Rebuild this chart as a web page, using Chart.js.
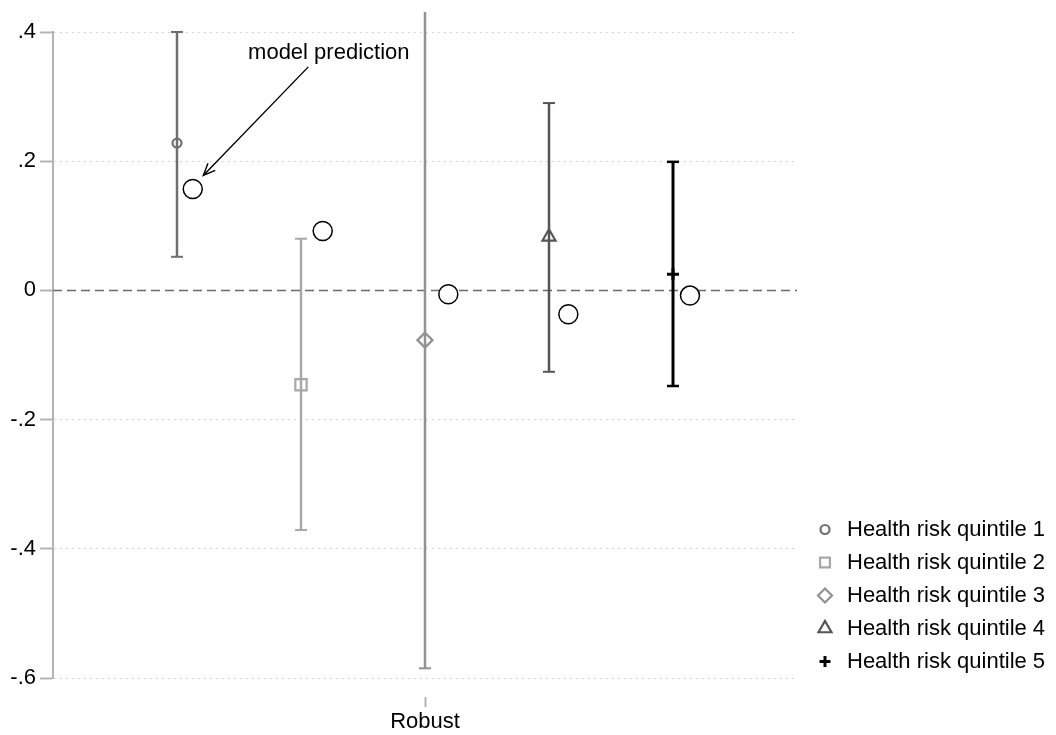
<!DOCTYPE html>
<html>
<head>
<meta charset="utf-8">
<script src="https://cdn.jsdelivr.net/npm/chart.js@4/dist/chart.umd.min.js"></script>
<style>
  body { margin: 0; background: #fff; }
  canvas { display: block; }
</style>
</head>
<body>
<canvas id="robust_chart" width="1056" height="735"></canvas>
<script>
// data set
var quintiles = ['Health risk quintile 1', 'Health risk quintile 2', 'Health risk quintile 3', 'Health risk quintile 4', 'Health risk quintile 5'];
var xPos = [1, 2, 3, 4, 5];
var estimates = [0.228, -0.146, -0.077, 0.083, 0.025];
var ciLow = [0.052, -0.371, -0.585, -0.126, -0.148];
var ciHigh = [0.400, 0.080, 0.431, 0.290, 0.199];
var predX = [1.127, 2.175, 3.188, 4.156, 5.137];
var predictions = [0.157, 0.092, -0.006, -0.037, -0.008];
var yTicks = [0.4, 0.2, 0, -0.2, -0.4, -0.6];
var xTickLabel = 'Robust';
var noteText = 'model prediction';
var noteAt = { x: 2.224, y: 0.368 };
var arrowFrom = { x: 2.059, y: 0.346 };
var arrowTo = { x: 1.212, y: 0.178 };

// style config
const FONT = '"Liberation Sans", Arial, Helvetica, sans-serif';
const colors = ['#6f6f6f', '#a8a8a8', '#929292', '#555555', '#000000'];
const markers = ['circle', 'rect', 'rectRot', 'triangle', 'cross'];
const markerSize = [4.5, 8, 7.5, 7.5, 6];
const legendSize = [4.5, 7, 7, 7.5, 5.5];
const lineWidths = [2.5, 2.5, 2.5, 2.5, 3];
const axisGray = '#b4b4b4';

var datasets = [];

// zero reference line
datasets.push({
  data: [{ x: 0, y: 0 }, { x: 6, y: 0 }],
  showLine: true,
  borderColor: '#6a6a6a',
  borderWidth: 1.5,
  borderDash: [9, 5],
  pointRadius: 0,
  order: 20
});

quintiles.forEach((name, i) => {
  // confidence interval with caps
  datasets.push({
    data: [{ x: xPos[i], y: ciLow[i] }, { x: xPos[i], y: ciHigh[i] }],
    showLine: true,
    borderColor: colors[i],
    borderWidth: lineWidths[i],
    pointStyle: 'line',
    pointRadius: 6,
    pointBorderWidth: lineWidths[i] - 0.5,
    pointBorderColor: colors[i],
    clip: false,
    order: 10
  });
  // point estimate
  datasets.push({
    label: name,
    data: [{ x: xPos[i], y: estimates[i] }],
    pointStyle: markers[i],
    pointRadius: markerSize[i],
    pointBorderWidth: markers[i] == 'cross' ? 3 : 2.2,
    pointBorderColor: colors[i],
    pointBackgroundColor: 'rgba(0,0,0,0)',
    clip: false,
    order: 5
  });
});

// model predictions
datasets.push({
  data: predX.map((x, i) => ({ x: x, y: predictions[i] })),
  pointStyle: 'circle',
  pointRadius: 9.5,
  pointBorderWidth: 1.5,
  pointBorderColor: '#000',
  pointBackgroundColor: '#fff',
  clip: false,
  order: 0
});

function fmtTick(v) {
  if (Math.abs(v) < 1e-9) return '0';
  return (v < 0 ? '-' : '') + Math.abs(v).toFixed(1).replace(/^0/, '');
}

// annotation + legend drawn on top
const extras = {
  id: 'extras',
  afterDraw(chart) {
    const ctx = chart.ctx;
    const xs = chart.scales.x;
    const ys = chart.scales.y;
    const area = chart.chartArea;

    ctx.save();
    ctx.fillStyle = '#000';
    ctx.font = '22px ' + FONT;
    ctx.textAlign = 'center';
    ctx.textBaseline = 'middle';
    ctx.fillText(noteText, xs.getPixelForValue(noteAt.x), ys.getPixelForValue(noteAt.y));

    var x1 = xs.getPixelForValue(arrowFrom.x), y1 = ys.getPixelForValue(arrowFrom.y);
    var x2 = xs.getPixelForValue(arrowTo.x), y2 = ys.getPixelForValue(arrowTo.y);
    var ang = Math.atan2(y2 - y1, x2 - x1);
    ctx.strokeStyle = '#000';
    ctx.lineWidth = 1.4;
    ctx.beginPath();
    ctx.moveTo(x1, y1);
    ctx.lineTo(x2, y2);
    ctx.moveTo(x2 - 13 * Math.cos(ang - 0.4), y2 - 13 * Math.sin(ang - 0.4));
    ctx.lineTo(x2, y2);
    ctx.lineTo(x2 - 13 * Math.cos(ang + 0.4), y2 - 13 * Math.sin(ang + 0.4));
    ctx.stroke();

    // legend
    ctx.textAlign = 'left';
    quintiles.forEach((name, i) => {
      var ly = area.bottom - 148.5 + i * 33;
      ctx.strokeStyle = colors[i];
      ctx.fillStyle = 'rgba(0,0,0,0)';
      ctx.lineWidth = markers[i] == 'cross' ? 3 : 2.2;
      Chart.helpers.drawPoint(ctx, { pointStyle: markers[i], radius: legendSize[i], rotation: 0, borderWidth: ctx.lineWidth }, area.right + 28, ly);
      ctx.fillStyle = '#000';
      ctx.fillText(name, area.right + 50, ly);
    });
    ctx.restore();
  }
};

new Chart('robust_chart', {
  type: 'scatter',
  data: { datasets: datasets },
  options: {
    responsive: false,
    animation: false,
    events: [],
    devicePixelRatio: 1,
    layout: { padding: { top: 32, right: 259, left: 0, bottom: 0 } },
    plugins: {
      legend: { display: false },
      tooltip: { enabled: false }
    },
    scales: {
      x: {
        type: 'linear',
        min: 0,
        max: 6,
        afterBuildTicks: scale => { scale.ticks = [{ value: 3 }]; },
        afterFit: scale => { scale.height = 57; },
        ticks: {
          callback: () => xTickLabel,
          font: { size: 22, family: FONT },
          color: '#000',
          padding: 2,
          maxRotation: 0
        },
        grid: {
          drawOnChartArea: false,
          tickLength: 29,
          tickColor: axisGray,
          tickWidth: 2,
          tickBorderDash: [0, 19, 10, 100]
        },
        border: { display: false }
      },
      y: {
        min: -0.6,
        max: 0.4,
        afterBuildTicks: scale => { scale.ticks = yTicks.map(v => ({ value: v })); },
        afterFit: scale => { scale.width = 53; },
        ticks: {
          callback: v => fmtTick(v),
          font: { size: 22, family: FONT },
          color: '#000',
          padding: 4
        },
        grid: {
          color: c => (c.tick && Math.abs(c.tick.value) < 1e-9) ? 'rgba(0,0,0,0)' : '#c8c8c8',
          lineWidth: 1,
          tickLength: 13,
          tickColor: axisGray,
          tickWidth: 2
        },
        border: { display: true, color: axisGray, width: 2, dash: [1.5, 4.5] }
      }
    }
  },
  plugins: [extras]
});
</script>
</body>
</html>
